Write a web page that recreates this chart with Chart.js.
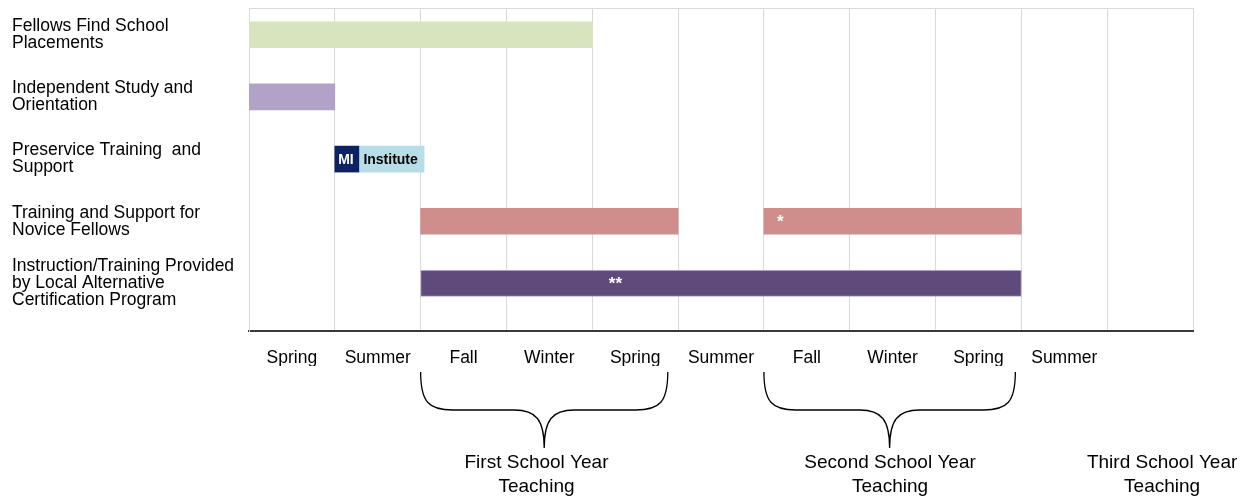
<!DOCTYPE html>
<html>
<head>
<meta charset="utf-8">
<script src="https://cdn.jsdelivr.net/npm/chart.js@4.4.1/dist/chart.umd.min.js"></script>
<style>
  body { margin: 0; background: #fff; }
  #wrap { width: 1250px; height: 499px; position: relative; }
</style>
</head>
<body>
<div id="wrap"><canvas id="myChart"></canvas></div>
<script>
// rows of the timeline (top to bottom)
const rowLabels = [
    ['Fellows Find School', 'Placements'],
    ['Independent Study and', 'Orientation'],
    ['Preservice Training  and', 'Support'],
    ['Training and Support for', 'Novice Fellows'],
    ['Instruction/Training Provided', 'by Local Alternative', 'Certification Program']
];

// seasons, one per column (last column has no label)
const seasons = ['Spring', 'Summer', 'Fall', 'Winter', 'Spring', 'Summer', 'Fall', 'Winter', 'Spring', 'Summer', ''];

// bar spans in seasons from the start
const placementSpan = [0, 4];
const studySpan = [0, 1];
const miSpan = [1, 1.28];
const instituteSpan = [1.28, 2.04];
const noviceSpans = [[2, 5], [6, 9]];
const localSpan = [2, 9];

// text written on the bars
const noteText = ['MI', 'Institute', '*', '**'];
const noteRow = [2, 2, 3, 4];
const noteAt = [1.13, 1.65, 6.19, 4.27];
const noteColor = ['#ffffff', '#000000', '#ffffff', '#ffffff'];
const noteSize = [14, 14, 17, 17];

// school year braces and captions under the axis
const braceFrom = [2, 6];
const braceTo = [4.88, 8.93];
const yearLabels = [
    ['First School Year', 'Teaching'],
    ['Second School Year', 'Teaching'],
    ['Third School Year', 'Teaching']
];
const yearCenters = [3.35, 7.47, 10.64];

const FONT = "'Liberation Sans', Arial, sans-serif";

function spans(row, list) {
    return list.map((s) => ({ x: s, y: row }));
}

// draws the frame top, texts on bars, braces and year captions
const annotate = {
    id: 'annotate',
    afterDatasetsDraw(chart) {
        const { ctx, chartArea } = chart;
        const x = chart.scales.x;
        const y = chart.scales.y;
        ctx.save();
        ctx.strokeStyle = '#d9d9d9';
        ctx.lineWidth = 1;
        ctx.beginPath();
        ctx.moveTo(chartArea.left, chartArea.top + 0.5);
        ctx.lineTo(chartArea.right, chartArea.top + 0.5);
        ctx.stroke();

        ctx.textAlign = 'center';
        ctx.textBaseline = 'middle';
        noteText.forEach((t, i) => {
            ctx.font = 'bold ' + noteSize[i] + 'px ' + FONT;
            ctx.fillStyle = noteColor[i];
            ctx.fillText(t, x.getPixelForValue(noteAt[i]), y.getPixelForValue(noteRow[i]) + 1);
        });
        ctx.restore();
    },
    afterDraw(chart) {
        const { ctx, chartArea } = chart;
        const x = chart.scales.x;
        const b = chartArea.bottom;
        const top = b + 41, mid = b + 79, tip = b + 117;
        ctx.save();
        ctx.strokeStyle = '#000';
        ctx.lineWidth = 1.3;
        braceFrom.forEach((from, i) => {
            const x0 = x.getPixelForValue(from);
            const x1 = x.getPixelForValue(braceTo[i]);
            const mx = (x0 + x1) / 2;
            ctx.beginPath();
            ctx.moveTo(x0, top);
            ctx.bezierCurveTo(x0, mid - 8, x0 + 8, mid, x0 + 32, mid);
            ctx.lineTo(mx - 30, mid);
            ctx.bezierCurveTo(mx - 8, mid, mx, mid + 10, mx, tip);
            ctx.bezierCurveTo(mx, mid + 10, mx + 8, mid, mx + 30, mid);
            ctx.lineTo(x1 - 32, mid);
            ctx.bezierCurveTo(x1 - 8, mid, x1, mid - 8, x1, top);
            ctx.stroke();
        });

        ctx.fillStyle = '#000';
        ctx.font = '19px ' + FONT;
        ctx.textAlign = 'center';
        ctx.textBaseline = 'middle';
        yearLabels.forEach((lines, i) => {
            const cx = x.getPixelForValue(yearCenters[i]);
            lines.forEach((line, j) => {
                ctx.fillText(line, cx, b + 132 + j * 24);
            });
        });
        ctx.restore();
    }
};

const ctx = document.getElementById('myChart').getContext('2d');
const myChart = new Chart(ctx, {
    type: 'bar',
    data: {
        datasets: [
            { label: 'Fellows Find School Placements', data: spans(0, [placementSpan]), backgroundColor: '#d7e4bd' },
            { label: 'Independent Study and Orientation', data: spans(1, [studySpan]), backgroundColor: '#b3a2c7' },
            { label: 'MI', data: spans(2, [miSpan]), backgroundColor: '#0d2263' },
            { label: 'Institute', data: spans(2, [instituteSpan]), backgroundColor: '#b7dde8' },
            { label: 'Training and Support for Novice Fellows', data: spans(3, noviceSpans), backgroundColor: '#cf8d8c' },
            { label: 'Local Alternative Certification Program', data: spans(4, [localSpan]), backgroundColor: '#604a7b', borderColor: '#b3a2c7', borderWidth: 1 }
        ]
    },
    options: {
        indexAxis: 'y',
        responsive: true,
        maintainAspectRatio: false,
        animation: false,
        datasets: {
            bar: { grouped: false, barThickness: 26, borderSkipped: false }
        },
        layout: {
            padding: { left: 12, right: 57, top: 8, bottom: 133 }
        },
        plugins: {
            legend: { display: false },
            tooltip: { enabled: false }
        },
        scales: {
            x: {
                type: 'linear',
                position: 'bottom',
                min: 0,
                max: seasons.length,
                afterBuildTicks: (axis) => {
                    axis.ticks = seasons.map((_, i) => ({ value: i + 0.5 }));
                },
                afterFit: (axis) => { axis.height = 35; },
                grid: { color: '#d9d9d9', lineWidth: 1, offset: true, drawTicks: false },
                border: { color: '#3a3a3a', width: 2 },
                ticks: {
                    autoSkip: false,
                    maxRotation: 0,
                    padding: 17,
                    color: '#000',
                    font: { family: FONT, size: 17.5 },
                    callback: (v, i) => seasons[i]
                }
            },
            y: {
                type: 'linear',
                reverse: true,
                offset: false,
                min: -0.43,
                max: 4.765,
                afterBuildTicks: (axis) => {
                    axis.ticks = rowLabels.map((_, i) => ({ value: i }));
                },
                afterFit: (axis) => {
                    axis.width = 237;
                    axis.paddingTop = 0;
                    axis.paddingBottom = 0;
                },
                grid: { display: false, offset: false },
                border: { color: '#d9d9d9', width: 1 },
                ticks: {
                    crossAlign: 'far',
                    color: '#000',
                    font: { family: FONT, size: 17.5, lineHeight: 0.97 },
                    callback: (v) => rowLabels[v]
                }
            }
        }
    },
    plugins: [annotate]
});
</script>
</body>
</html>
